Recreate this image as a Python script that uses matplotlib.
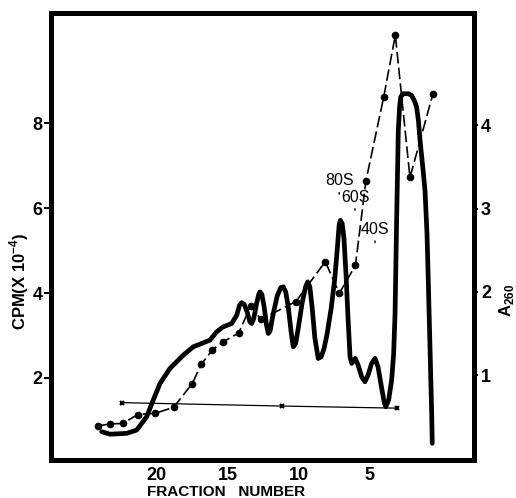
import matplotlib
matplotlib.use("Agg")
import matplotlib.pyplot as plt

plt.rcParams['font.family'] = ['Liberation Sans', 'DejaVu Sans']
plt.rcParams['mathtext.fontset'] = 'custom'
plt.rcParams['mathtext.rm'] = 'Liberation Sans'
plt.rcParams['mathtext.bf'] = 'Liberation Sans:bold'

# radioactivity (CPM x 10^-4), circles + dashed line
cpm_frac = [24.14, 23.27, 22.38, 21.32, 20.08, 18.79, 17.48, 16.85, 16.09, 15.32, 14.21,
            13.37, 12.64, 10.18, 8.11, 7.13, 5.99, 5.25, 4.0, 3.18, 2.15, 0.53]
cpm_vals = [0.87, 0.92, 0.93, 1.14, 1.17, 1.31, 1.87, 2.32, 2.65, 2.85, 3.06,
            3.69, 3.38, 3.80, 4.74, 3.99, 4.65, 6.64, 8.61, 10.07, 6.72, 8.69]

# background line (x markers)
bg_frac = [22.45, 11.18, 3.08]
bg_vals = [1.42, 1.34, 1.29]

# absorbance trace A260 (thick line)
a260_frac = [23.86, 23.27, 22.10, 21.39, 20.69, 20.23, 19.75, 19.05, 18.11, 17.41,
             16.23, 15.76, 15.30, 14.70, 14.35, 14.15, 14.00, 13.82, 13.62, 13.42,
             13.30, 13.15, 12.95, 12.80, 12.71, 12.58, 12.42, 12.25, 12.13, 12.00,
             11.80, 11.50, 11.25, 11.07, 10.90, 10.72, 10.52, 10.37, 10.20, 10.00,
             9.75, 9.50, 9.35, 9.20, 9.03, 8.85, 8.61, 8.40, 8.20, 8.00,
             7.70, 7.45, 7.25, 7.14, 7.05, 6.92, 6.80, 6.65, 6.50, 6.37,
             6.25, 6.10, 6.00, 5.80, 5.55, 5.32, 5.10, 4.85, 4.61, 4.40,
             4.15, 3.95, 3.85, 3.65, 3.44, 3.30, 3.20, 3.08, 2.97, 2.88,
             2.80, 2.65, 2.50, 2.25, 2.03, 1.85, 1.68, 1.55, 1.44, 1.25,
             1.09, 0.95, 0.86, 0.74, 0.62, 0.58]
a260_vals = [0.32, 0.29, 0.30, 0.34, 0.50, 0.70, 0.90, 1.08, 1.24, 1.34,
             1.42, 1.52, 1.58, 1.62, 1.72, 1.84, 1.87, 1.85, 1.76, 1.64,
             1.62, 1.68, 1.86, 1.97, 2.00, 1.97, 1.82, 1.60, 1.50, 1.53,
             1.72, 1.95, 2.05, 2.06, 2.00, 1.82, 1.52, 1.34, 1.38, 1.58,
             1.86, 2.06, 2.12, 2.06, 1.80, 1.45, 1.20, 1.22, 1.32, 1.48,
             1.80, 2.15, 2.55, 2.80, 2.86, 2.82, 2.65, 2.20, 1.65, 1.22,
             1.14, 1.18, 1.20, 1.12, 0.98, 0.92, 1.00, 1.14, 1.20, 1.10,
             0.85, 0.66, 0.62, 0.70, 0.94, 1.25, 1.74, 2.94, 3.94, 4.22,
             4.34, 4.38, 4.38, 4.38, 4.36, 4.30, 4.22, 4.05, 3.82, 3.50,
             3.22, 2.70, 2.14, 1.34, 0.54, 0.18]

# ribosome markers
peak_labels = ['80S', '60S', '40S']
peak_frac = [7.13, 6.02, 4.61]
peak_cpm = [6.26, 5.88, 5.12]

fig = plt.figure(figsize=(5.16, 4.98), dpi=100)
ax = fig.add_axes([0.0988, 0.0763, 0.8198, 0.8976])
ax2 = ax.twinx()

ax.plot(cpm_frac, cpm_vals, color='black', lw=1.2, dashes=(7, 2.5),
        marker='o', ms=4.5, zorder=3)
ax.plot(bg_frac, bg_vals, color='black', lw=0.9, marker='x', ms=3.5, mew=1.5)
ax2.plot(a260_frac, a260_vals, color='black', lw=3.4,
         solid_joinstyle='round', solid_capstyle='round')

for lab, f, y in zip(peak_labels, peak_frac, peak_cpm):
    ax.annotate('', xy=(f, y), xytext=(f, y + 0.17),
                arrowprops=dict(arrowstyle='-', lw=1.0, color='black'))
    ax.text(f, y + 0.2, lab, ha='center', va='bottom', fontsize=11.5)

ax.set_xlim(27.43, -2.36)
ax.set_ylim(0.07, 10.59)
ax2.set_ylim(-0.02, 5.35)

ax.set_xticks([20, 15, 10, 5])
ax.set_yticks([2, 4, 6, 8])
ax2.set_yticks([1, 2, 3, 4])
ax.tick_params(axis='x', length=0, pad=5, labelsize=13)
ax.tick_params(axis='y', direction='out', length=5, width=1.5, pad=1, labelsize=13)
ax2.tick_params(axis='y', direction='out', length=3, width=1.5, pad=2, labelsize=13)
for lbl in ax.get_xticklabels() + ax.get_yticklabels() + ax2.get_yticklabels():
    lbl.set_fontweight('bold')

for a in (ax, ax2):
    for sp in a.spines.values():
        sp.set_linewidth(3.6)

fig.text(226 / 516, 1 - 491.5 / 498, 'FRACTION   NUMBER', ha='center', va='center',
         fontsize=11, fontweight='bold')
fig.text(19 / 516, 1 - 281 / 498, r'CPM(X 10$^{\mathbf{-4}}$)', ha='center', va='center',
         rotation=90, fontsize=12, fontweight='bold')
fig.text(507 / 516, 1 - 300 / 498, r'A$_{\mathbf{260}}$', ha='center', va='center',
         rotation=90, fontsize=12, fontweight='bold')

fig.savefig('out.png', dpi=100)
